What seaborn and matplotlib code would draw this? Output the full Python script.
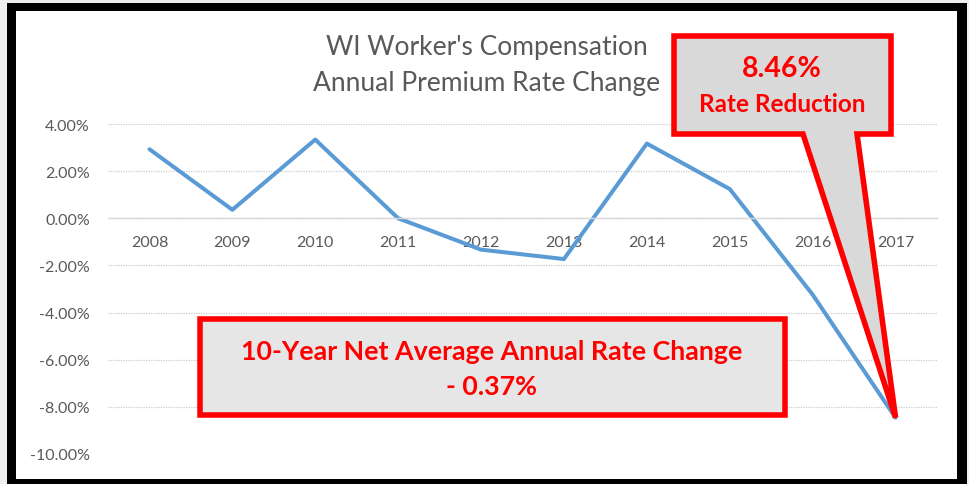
import numpy as np
import pandas as pd
import matplotlib
matplotlib.use("Agg")
import matplotlib.pyplot as plt
from matplotlib.patches import Rectangle, Polygon
from matplotlib.ticker import FuncFormatter
import seaborn as sns

# data
years = ['2008', '2009', '2010', '2011', '2012', '2013', '2014', '2015', '2016', '2017']
rate_change = [2.93, 0.36, 3.34, 0.00, -1.33, -1.73, 3.17, 1.24, -3.24, -8.46]
y_ticks = [4, 2, 0, -2, -4, -6, -8, -10]
title_lines = ["WI Worker's Compensation", "Annual Premium Rate Change"]
callout_top = ["8.46%", "Rate Reduction"]
callout_bottom = ["10-Year Net Average Annual Rate Change", "- 0.37%"]

df = pd.DataFrame({'Year': years, 'Rate': rate_change})

sns.set_style("white")
plt.rcParams['font.family'] = ['Lato', 'DejaVu Sans']

W, H = 970, 485
fig = plt.figure(figsize=(W / 100, H / 100), dpi=100, facecolor='#efefef')

# black frame around the chart
fig.patches.append(Rectangle((7 / W, 0), (967 - 7) / W, 1 - 4 / H, transform=fig.transFigure,
                             facecolor='black', edgecolor='none', zorder=-3))
fig.patches.append(Rectangle((16 / W, 5 / H), (957 - 16) / W, 1 - 12 / H - 5 / H,
                             transform=fig.transFigure, facecolor='white', edgecolor='none', zorder=-2))

ax = fig.add_axes([108 / W, 1 - 455 / H, (937 - 108) / W, (455 - 125) / H])
ax.patch.set_alpha(0)

sns.lineplot(data=df, x='Year', y='Rate', ax=ax, color='#5b9bd5', linewidth=2.9, sort=False)

ax.set_xlim(-0.5, len(years) - 0.5)
ax.set_ylim(-10, 4)
ax.set_yticks(y_ticks)
ax.yaxis.set_major_formatter(FuncFormatter(lambda v, p: f"{v:.2f}%"))
ax.grid(axis='y', color='#cccccc', linestyle=(0, (1, 1)), linewidth=0.9)
ax.grid(axis='x', visible=False)
for s in ['top', 'right', 'left']:
    ax.spines[s].set_visible(False)
ax.spines['bottom'].set_position(('data', 0))
ax.spines['bottom'].set_color('#d9d9d9')
ax.spines['bottom'].set_linewidth(1)
ax.tick_params(axis='x', length=0, pad=12, labelsize=11.5, labelcolor='#595959')
ax.tick_params(axis='y', length=0, pad=13, labelsize=11.5, labelcolor='#595959')
ax.set_xlabel('')
ax.set_ylabel('')

# title
fig.text(487 / W, 1 - 47 / H, title_lines[0], ha='center', va='center', fontsize=19, color='#595959')
fig.text(487 / W, 1 - 83 / H, title_lines[1], ha='center', va='center', fontsize=19, color='#595959')

# top callout with pointer to the 2017 value
fig.canvas.draw()
tip_disp = ax.transData.transform((len(years) - 1, rate_change[-1]))
tip = fig.transFigure.inverted().transform(tip_disp)
bx0, bx1, by0, by1 = 674, 891, 37, 135
pts = [(bx0, by0), (bx1, by0), (bx1, by1), (857, by1), None, (803, by1), (bx0, by1)]
poly = []
for p in pts:
    if p is None:
        poly.append(tuple(tip))
    else:
        poly.append((p[0] / W, 1 - p[1] / H))
fig.patches.append(Polygon(poly, closed=True, transform=fig.transFigure, facecolor='#d9d9d9',
                           edgecolor='#ff0000', linewidth=4, joinstyle='miter', zorder=5))
fig.text(782 / W, 1 - 69 / H, callout_top[0], ha='center', va='center', fontsize=20.5,
         fontweight='bold', color='#ff0000', zorder=6)
fig.text(782 / W, 1 - 104 / H, callout_top[1], ha='center', va='center', fontsize=17.5,
         fontweight='bold', color='#ff0000', zorder=6)

# bottom box
fig.patches.append(Rectangle((200 / W, 1 - 416 / H), (785 - 200) / W, (416 - 320) / H,
                             transform=fig.transFigure, facecolor='#e6e6e6', edgecolor='#ff0000',
                             linewidth=4, joinstyle='miter', zorder=5))
fig.text(492 / W, 1 - 352 / H, callout_bottom[0], ha='center', va='center', fontsize=19.3,
         fontweight='bold', color='#ff0000', zorder=6)
fig.text(492 / W, 1 - 387 / H, callout_bottom[1], ha='center', va='center', fontsize=19.3,
         fontweight='bold', color='#ff0000', zorder=6)

fig.savefig('out.png', dpi=100, facecolor=fig.get_facecolor())
